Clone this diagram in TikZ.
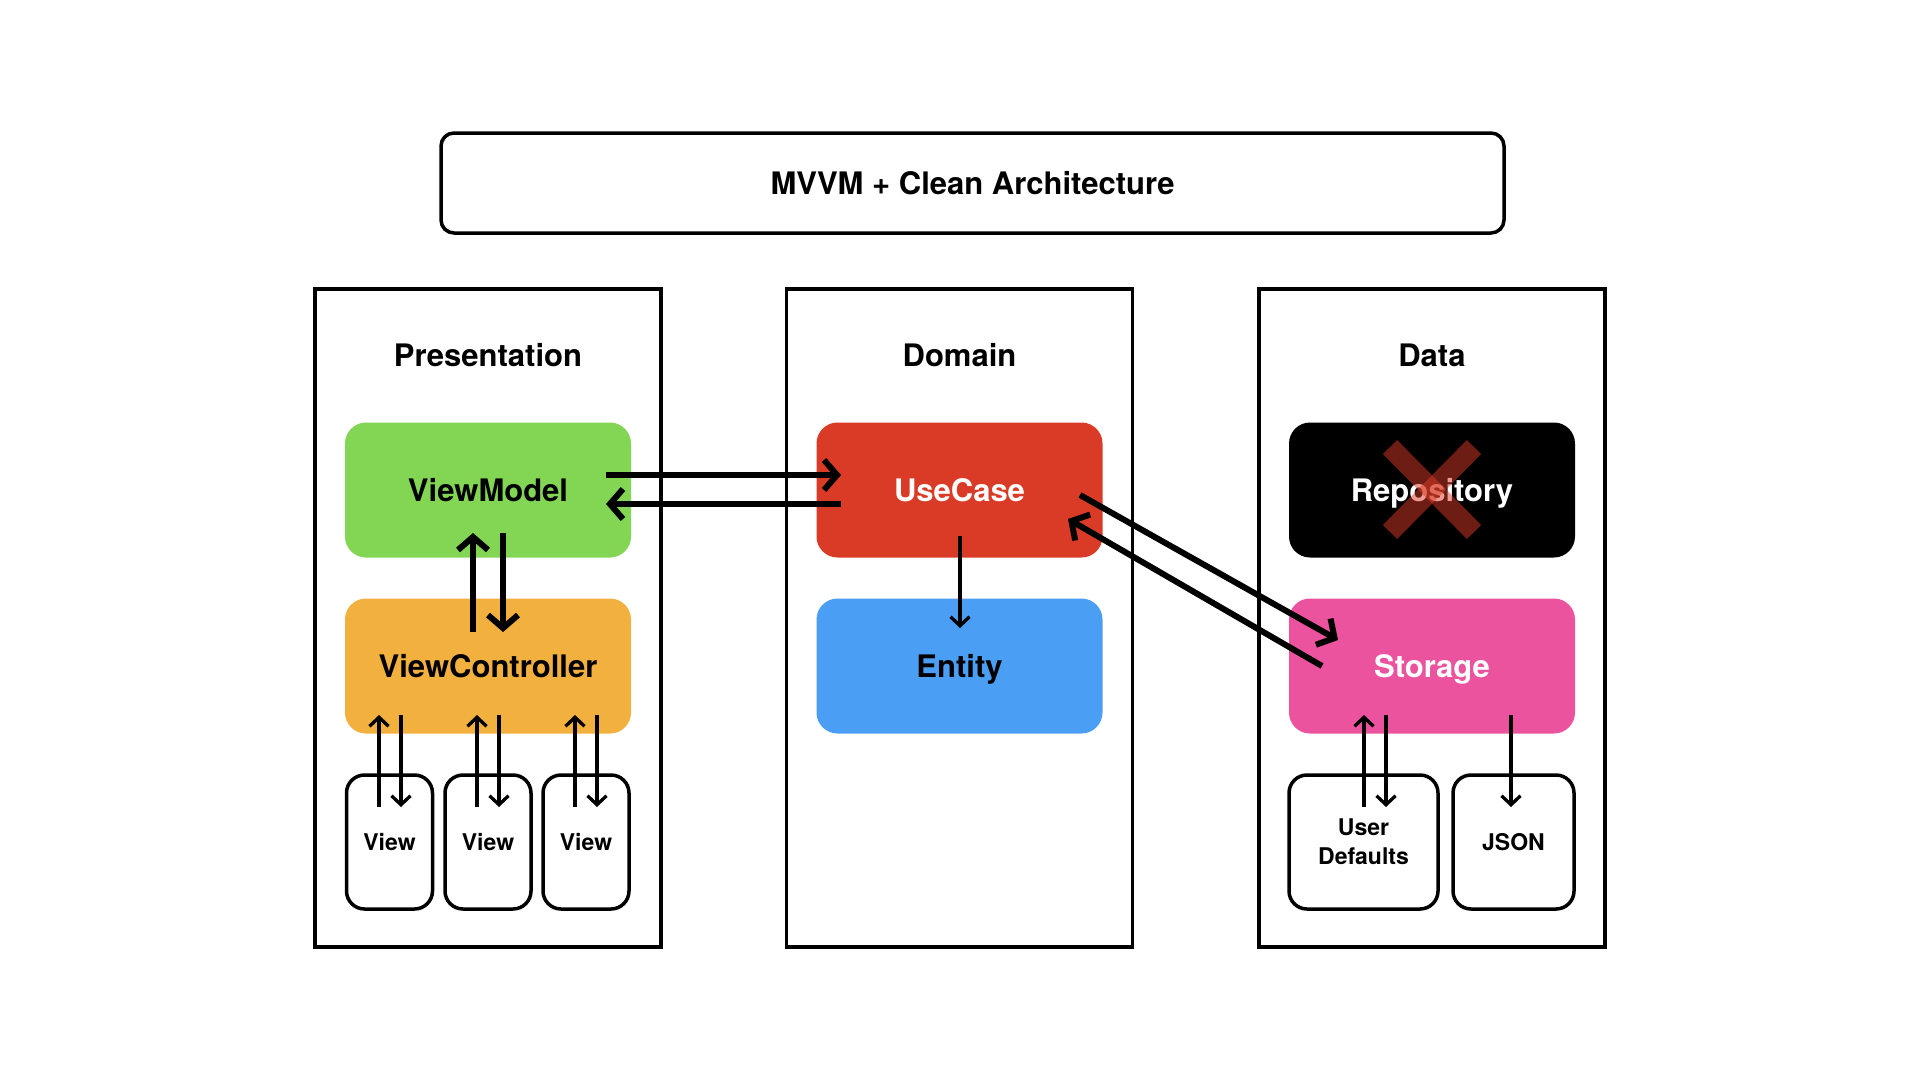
\documentclass[tikz,border=0pt]{standalone}
\usepackage{fontspec}
\setmainfont{TeX Gyre Heros}
\usetikzlibrary{arrows.meta}
\definecolor{vmgreen}{HTML}{83D654}
\definecolor{vcorange}{HTML}{F2B03E}
\definecolor{ucred}{HTML}{DA3B26}
\definecolor{entblue}{HTML}{4A9FF5}
\definecolor{stpink}{HTML}{EB539E}
\tikzset{
  bigfont/.style={font=\fontsize{31}{37}\selectfont\bfseries},
  smallfont/.style={font=\fontsize{23}{28}\selectfont\bfseries},
  panel/.style={draw=black, line width=3.5pt, minimum width=346pt, minimum height=658pt, inner sep=0pt},
  panelttl/.style={bigfont, inner sep=0pt, text height=22.5pt, text depth=0pt},
  cbox/.style={rounded corners=21pt, minimum width=286pt, minimum height=135pt, inner sep=0pt, bigfont, text height=22.5pt, text depth=0pt},
  sbox/.style={draw=black, line width=3.5pt, rounded corners=18pt, minimum height=134pt, inner sep=0pt, smallfont, align=center},
  thinarr/.style={line width=3.3pt, -{Straight Barb[length=9pt,width=19pt]}},
  thickarr/.style={line width=6pt, -{Straight Barb[length=13pt,width=30pt]}},
}
\begin{document}
\begin{tikzpicture}[x=1pt,y=-1pt]
\useasboundingbox[fill=white] (0,0) rectangle (1920,1080);
% title
\node[draw=black, line width=3.5pt, rounded corners=13pt, minimum width=1063pt, minimum height=100pt, bigfont, text height=22.5pt, text depth=0pt] (title) at (972.5,183) {MVVM + Clean Architecture};
% panels
\node[panel] (ppres) at (488,618) {};
\node[panel] (pdom) at (959.5,618) {};
\node[panel] (pdata) at (1432,618) {};
\node[panelttl] (tpres) at (488,355) {Presentation};
\node[panelttl] (tdom) at (959.5,355) {Domain};
\node[panelttl] (tdata) at (1432,355) {Data};
% colored boxes
\node[cbox, fill=vmgreen] (vm) at (488,490) {ViewModel};
\node[cbox, fill=vcorange] (vc) at (488,666) {ViewController};
\node[cbox, fill=ucred, text=white] (uc) at (959.5,490) {UseCase};
\node[cbox, fill=entblue] (ent) at (959.5,666) {Entity};
\node[cbox, fill=black, text=white] (repo) at (1432,490) {Repository};
\node[cbox, fill=stpink, text=white] (st) at (1432,666) {Storage};
% red cross over repository
\coordinate (xa) at (1390,447);
\coordinate (xb) at (1474,532);
\coordinate (xc) at (1474,447);
\coordinate (xd) at (1390,532);
\draw[ucred, opacity=0.5, line width=20pt] (xa) -- (xb);
\draw[ucred, opacity=0.5, line width=20pt] (xc) -- (xd);
% small boxes
\node[sbox, minimum width=86pt] (v1) at (389.5,842) {View};
\node[sbox, minimum width=86pt] (v2) at (488,842) {View};
\node[sbox, minimum width=86pt] (v3) at (586,842) {View};
\node[sbox, minimum width=149pt] (ud) at (1363.5,842) {User\\[1pt]Defaults};
\node[sbox, minimum width=121pt] (json) at (1513.5,842) {JSON};
% arrow end coordinates
\coordinate (vmA) at (473,533); \coordinate (vcA) at (473,632);
\coordinate (vmB) at (503,533); \coordinate (vcB) at (503,632);
\coordinate (vmR) at (606,475); \coordinate (ucR) at (841,475);
\coordinate (vmL) at (606,504); \coordinate (ucL) at (841,504);
\coordinate (ucE) at (960,536); \coordinate (entE) at (960,628);
\coordinate (ucS) at (1080,495); \coordinate (stS) at (1338,640);
\coordinate (stU) at (1322,666); \coordinate (ucU) at (1068,519);
% thick arrows
\draw[thickarr] (vcA) -- (vmA);
\draw[thickarr] (vmB) -- (vcB);
\draw[thickarr] (vmR) -- (ucR);
\draw[thickarr] (ucL) -- (vmL);
\draw[thickarr] (ucS) -- (stS);
\draw[thickarr] (stU) -- (ucU);
% thin arrows
\draw[thinarr] (ucE) -- (entE);
\foreach \n/\x in {v1/379, v2/477, v3/575}{
  \coordinate (\n up0) at (\x,807); \coordinate (\n up1) at (\x,715);
  \coordinate (\n dn0) at (\x+22,715); \coordinate (\n dn1) at (\x+22,807);
  \draw[thinarr] (\n up0) -- (\n up1);
  \draw[thinarr] (\n dn0) -- (\n dn1);
}
\coordinate (udup0) at (1364,807); \coordinate (udup1) at (1364,715);
\coordinate (uddn0) at (1386,715); \coordinate (uddn1) at (1386,807);
\coordinate (js0) at (1511,715); \coordinate (js1) at (1511,807);
\draw[thinarr] (udup0) -- (udup1);
\draw[thinarr] (uddn0) -- (uddn1);
\draw[thinarr] (js0) -- (js1);
\end{tikzpicture}
\end{document}
